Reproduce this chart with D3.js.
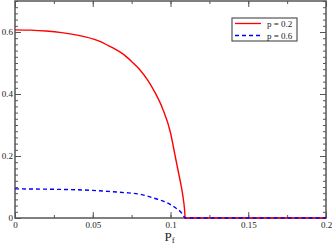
<!DOCTYPE html>
<head>
  <meta charset="utf-8">
  <script src="https://d3js.org/d3.v7.min.js"></script>
  <style>
    body { margin:0; background:#fff; }
    text { font-family: "Liberation Serif", "DejaVu Serif", serif; }
  </style>
</head>
<body>
<script>
  // p = 0.2 (red, solid)
  var redX = [0, 0.01, 0.02, 0.03, 0.04, 0.05, 0.055, 0.06, 0.065, 0.07, 0.075, 0.08, 0.085, 0.09, 0.095, 0.1, 0.103, 0.105, 0.107, 0.108, 0.109, 0.1095, 0.2];
  var redY = [0.607, 0.606, 0.603, 0.598, 0.59, 0.578, 0.569, 0.556, 0.543, 0.527, 0.505, 0.48, 0.447, 0.405, 0.352, 0.275, 0.2, 0.15, 0.1, 0.07, 0.03, 0, 0];
  // p = 0.6 (blue, dashed)
  var blueX = [0, 0.02, 0.04, 0.05, 0.06, 0.07, 0.08, 0.085, 0.09, 0.095, 0.1, 0.104, 0.1065, 0.108, 0.1095, 0.2];
  var blueY = [0.094, 0.093, 0.091, 0.089, 0.086, 0.082, 0.077, 0.071, 0.063, 0.055, 0.043, 0.03, 0.02, 0.01, 0, 0];

  var xTicks = [0, 0.05, 0.1, 0.15, 0.2];
  var yTicks = [0, 0.2, 0.4, 0.6];
  var xTickLabels = ["0", "0.05", "0.1", "0.15", "0.2"];
  var yTickLabels = ["0", "0.2", "0.4", "0.6"];
  var seriesNames = ["p = 0.2", "p = 0.6"];

  var margin = {top: 1, right: 6, bottom: 25, left: 15},
    width = 332, height = 243,
    w = width - margin.left - margin.right,
    h = height - margin.top - margin.bottom;

  var svg = d3.select("body").append("svg")
    .attr("width", width)
    .attr("height", height)
    .append("g")
    .attr("transform", "translate(" + margin.left + "," + margin.top + ")");

  var x = d3.scaleLinear().domain([0, 0.2]).range([0, w]);
  var y = d3.scaleLinear().domain([0, 0.7]).range([h, 0]);

  var axisColor = "#555";
  var xMinor = d3.range(0, 0.2001, 0.025);
  var yMinor = d3.range(0, 0.7001, 0.02);

  function tickAxis(axis, g) {
    g.call(axis);
    g.select(".domain").remove();
    g.selectAll("line").attr("stroke", axisColor).attr("stroke-width", 1);
  }

  // minor ticks (inward), all four sides
  tickAxis(d3.axisBottom(x).tickValues(xMinor).tickSize(-3).tickFormat(""),
    svg.append("g").attr("transform", "translate(0," + h + ")"));
  tickAxis(d3.axisTop(x).tickValues(xMinor).tickSize(-3).tickFormat(""), svg.append("g"));
  tickAxis(d3.axisLeft(y).tickValues(yMinor).tickSize(-3).tickFormat(""), svg.append("g"));
  tickAxis(d3.axisRight(y).tickValues(yMinor).tickSize(-3).tickFormat(""),
    svg.append("g").attr("transform", "translate(" + w + ",0)"));

  // major ticks with labels
  var xb = svg.append("g").attr("transform", "translate(0," + h + ")");
  tickAxis(d3.axisBottom(x).tickValues(xTicks).tickSize(-6).tickPadding(4)
    .tickFormat(function(d, i) { return xTickLabels[i]; }), xb);
  xb.selectAll("text").attr("fill", "#222").style("font-size", "9px");
  tickAxis(d3.axisTop(x).tickValues(xTicks).tickSize(-6).tickFormat(""), svg.append("g"));
  var yl = svg.append("g");
  tickAxis(d3.axisLeft(y).tickValues(yTicks).tickSize(-6).tickPadding(9)
    .tickFormat(function(d, i) { return yTickLabels[i]; }), yl);
  yl.selectAll("text").attr("fill", "#222").style("font-size", "9px").attr("dx", "7");
  tickAxis(d3.axisRight(y).tickValues(yTicks).tickSize(-6).tickFormat(""),
    svg.append("g").attr("transform", "translate(" + w + ",0)"));

  // frame
  svg.append("rect")
    .attr("width", w).attr("height", h)
    .attr("fill", "none").attr("stroke", axisColor).attr("stroke-width", 1.5);

  var line = d3.line()
    .x(function(d) { return x(d[0]); })
    .y(function(d) { return y(d[1]); })
    .curve(d3.curveMonotoneX);

  svg.append("path")
    .datum(d3.zip(redX, redY))
    .attr("d", line)
    .attr("fill", "none").attr("stroke", "#ff0000").attr("stroke-width", 1.4);
  svg.append("path")
    .datum(d3.zip(blueX, blueY))
    .attr("d", line)
    .attr("fill", "none").attr("stroke", "#0000ff").attr("stroke-width", 1.4)
    .attr("stroke-dasharray", "4,3");

  // axis title
  var t = svg.append("text")
    .attr("x", x(0.1) - 6).attr("y", h + 23)
    .attr("fill", "#222").style("font-size", "13px");
  t.append("tspan").text("P");
  t.append("tspan").attr("dy", 1.5).style("font-size", "9px").text("f");

  // legend
  var lg = svg.append("g").attr("transform", "translate(" + (232 - margin.left) + "," + (18 - margin.top) + ")");
  lg.append("rect").attr("width", 65).attr("height", 23)
    .attr("fill", "#fff").attr("stroke", axisColor).attr("stroke-width", 1.2);
  var colors = ["#ff0000", "#0000ff"];
  var dashes = [null, "4,3"];
  seriesNames.forEach(function(name, i) {
    var yy = 5.5 + i * 12;
    lg.append("line").attr("x1", 3).attr("x2", 29).attr("y1", yy).attr("y2", yy)
      .attr("stroke", colors[i]).attr("stroke-width", 1.3)
      .attr("stroke-dasharray", dashes[i]);
    lg.append("text").attr("x", 35).attr("y", yy + 3)
      .attr("fill", "#222").style("font-size", "9px").text(name);
  });
</script>
</body>
